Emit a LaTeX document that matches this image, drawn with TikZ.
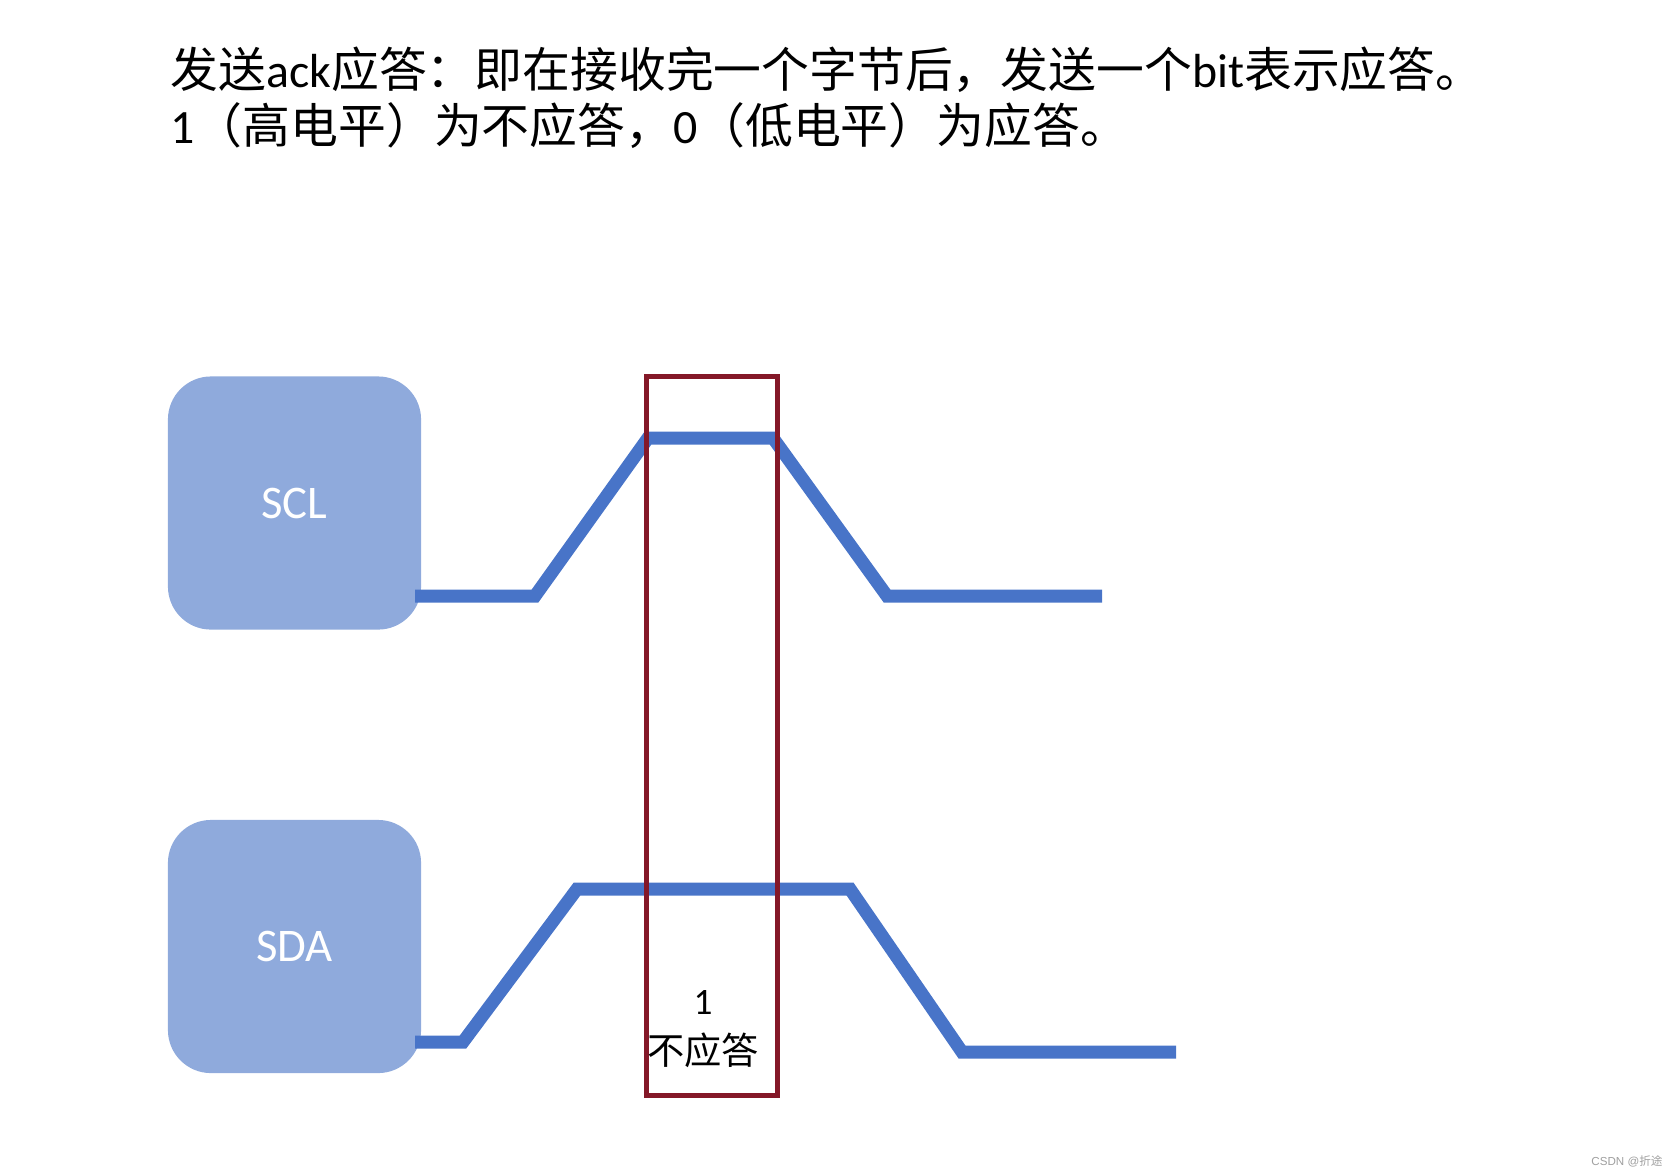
\documentclass[tikz,border=0pt]{standalone}
\usepackage{fontspec}
\setmainfont{Carlito}
\newfontfamily\cjk{Noto Sans CJK SC}
\newfontfamily\wmfont{Liberation Sans}
\usetikzlibrary{positioning}
\definecolor{boxblue}{RGB}{143,170,220}
\definecolor{wireblue}{RGB}{72,116,200}
\definecolor{ackred}{RGB}{132,24,40}

\begin{document}
\begin{tikzpicture}[x=0.01cm,y=-0.01cm,
  sigbox/.style={fill=boxblue,rounded corners=0.43cm,minimum width=2.53cm,minimum height=2.53cm,
                 text=white,inner sep=0pt,font=\fontsize{13.3pt}{16pt}\selectfont},
  wave/.style={wireblue,line width=0.13cm},
  headline/.style={anchor=base west,inner sep=0pt,font=\fontsize{13.6pt}{16pt}\selectfont}]
  \useasboundingbox (0,0) rectangle (1677,1175);
  % heading
  \node[headline] (line1) at (170,87)
       {{\cjk 发送}ack{\cjk 应答：即在接收完一个字节后，发送一个}bit{\cjk 表示应答。}};
  \node[headline] (line2) at (170,143)
       {1{\cjk （高电平）为不应答，}0{\cjk （低电平）为应答。}};
  % the two bus lines
  \node[sigbox] (scl) at (294.5,503) {SCL};
  \node[sigbox] (sda) at (294.5,946.5) {SDA};
  \draw[wave] (415,596) -- (535,596) -- (648,438) -- (773,438) -- (887,596) -- (1102,596);
  \draw[wave] (415,1042) -- (463,1042) -- (577,889) -- (850,889) -- (962,1052) -- (1176,1052);
  % the ack bit
  \node[draw=ackred,line width=0.05cm,minimum width=1.308cm,minimum height=7.185cm,inner sep=0pt]
       (ack) at (712,735.75) {};
  \node[align=center,inner sep=0pt,font=\fontsize{10.6pt}{14.2pt}\selectfont] (acklabel) at (703,1029)
       {1\\{\cjk 不应答}};
  \node[gray!75,inner sep=0pt,font=\fontsize{3.3pt}{4pt}\selectfont] (mark) at (1627,1161)
       {\wmfont CSDN @{\cjk 折途}};
\end{tikzpicture}
\end{document}
